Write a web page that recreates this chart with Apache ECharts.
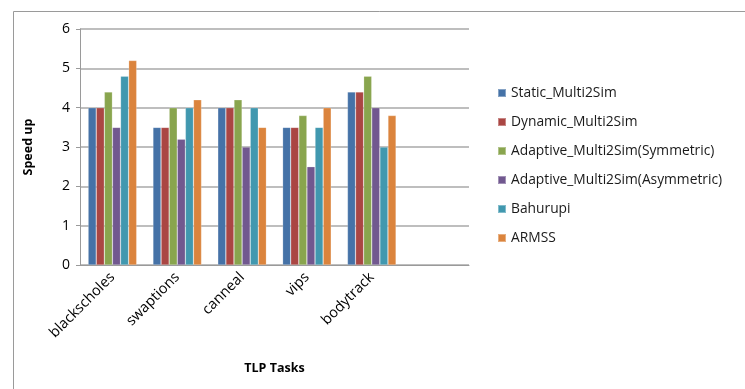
<!DOCTYPE html>
<html>
<head>
<meta charset="utf-8">
<script src="https://cdn.jsdelivr.net/npm/echarts@6/dist/echarts.min.js"></script>
<style>
  html, body { margin: 0; padding: 0; background: #fff; }
  #chart { width: 745px; height: 389px; }
</style>
</head>
<body>
<div id="chart"></div>
<script>
// Categories (a trailing blank slot keeps the spare room on the right of the plot)
const tasks = ['blackscholes', 'swaptions', 'canneal', 'vips', 'bodytrack', ''];
const seriesNames = [
  'Static_Multi2Sim',
  'Dynamic_Multi2Sim',
  'Adaptive_Multi2Sim(Symmetric)',
  'Adaptive_Multi2Sim(Asymmetric)',
  'Bahurupi',
  'ARMSS'
];
const staticMulti2Sim   = [4.0, 3.5, 4.0, 3.5, 4.4];
const dynamicMulti2Sim  = [4.0, 3.5, 4.0, 3.5, 4.4];
const adaptiveSym       = [4.4, 4.0, 4.2, 3.8, 4.8];
const adaptiveAsym      = [3.5, 3.2, 3.0, 2.5, 4.0];
const bahurupi          = [4.8, 4.0, 4.0, 3.5, 3.0];
const armss             = [5.2, 4.2, 3.5, 4.0, 3.8];
const yTicks = [0, 1, 2, 3, 4, 5, 6];

const palette = ['#4572A7', '#AA4643', '#89A54E', '#71588F', '#4198AF', '#DB843D'];
const values = [staticMulti2Sim, dynamicMulti2Sim, adaptiveSym, adaptiveAsym, bahurupi, armss];

const font = '"Open Sans", "DejaVu Sans", sans-serif';

const chart = echarts.init(document.getElementById('chart'), null, { renderer: 'canvas' });
chart.setOption({
  animation: false,
  backgroundColor: '#fff',
  color: palette,
  graphic: [{
    type: 'rect',
    shape: { x: 13.5, y: 11.5, width: 760, height: 400 },
    style: { fill: 'none', stroke: '#9a9a9a', lineWidth: 1 },
    silent: true
  }],
  grid: { left: 80, top: 29, width: 389, height: 236, containLabel: false },
  legend: {
    orient: 'vertical',
    left: 492,
    top: 79,
    itemWidth: 8,
    itemHeight: 8,
    itemGap: 11,
    icon: 'rect',
    textStyle: { fontFamily: font, fontSize: 13.8, lineHeight: 18, color: '#1a1a1a' },
    data: seriesNames
  },
  xAxis: {
    type: 'category',
    data: tasks,
    name: 'TLP Tasks',
    nameLocation: 'middle',
    nameGap: 97,
    nameTextStyle: { fontFamily: font, fontSize: 12.5, fontWeight: 'bold', color: '#000' },
    axisLine: { lineStyle: { color: '#9a9a9a', width: 1 } },
    axisTick: { show: false },
    axisLabel: {
      rotate: 45,
      interval: 0,
      margin: 10,
      fontFamily: font,
      fontSize: 14.5,
      color: '#000'
    }
  },
  yAxis: {
    type: 'value',
    min: yTicks[0],
    max: yTicks[yTicks.length - 1],
    interval: 1,
    name: 'Speed up',
    nameLocation: 'middle',
    nameGap: 45,
    nameRotate: 90,
    nameTextStyle: { fontFamily: font, fontSize: 12.5, fontWeight: 'bold', color: '#000' },
    axisLine: { show: true, lineStyle: { color: '#9a9a9a', width: 1 } },
    axisTick: { show: true, length: 4, lineStyle: { color: '#9a9a9a' } },
    axisLabel: { fontFamily: font, fontSize: 14, color: '#000', margin: 10 },
    splitLine: { lineStyle: { color: '#a8a8a8', width: 1.5 } }
  },
  series: seriesNames.map((name, i) => ({
    name,
    type: 'bar',
    data: values[i],
    barGap: '0%',
    barCategoryGap: '25%',
    itemStyle: { color: palette[i], borderColor: 'rgba(255,255,255,0.35)', borderWidth: 0.6 }
  }))
});
</script>
</body>
</html>
